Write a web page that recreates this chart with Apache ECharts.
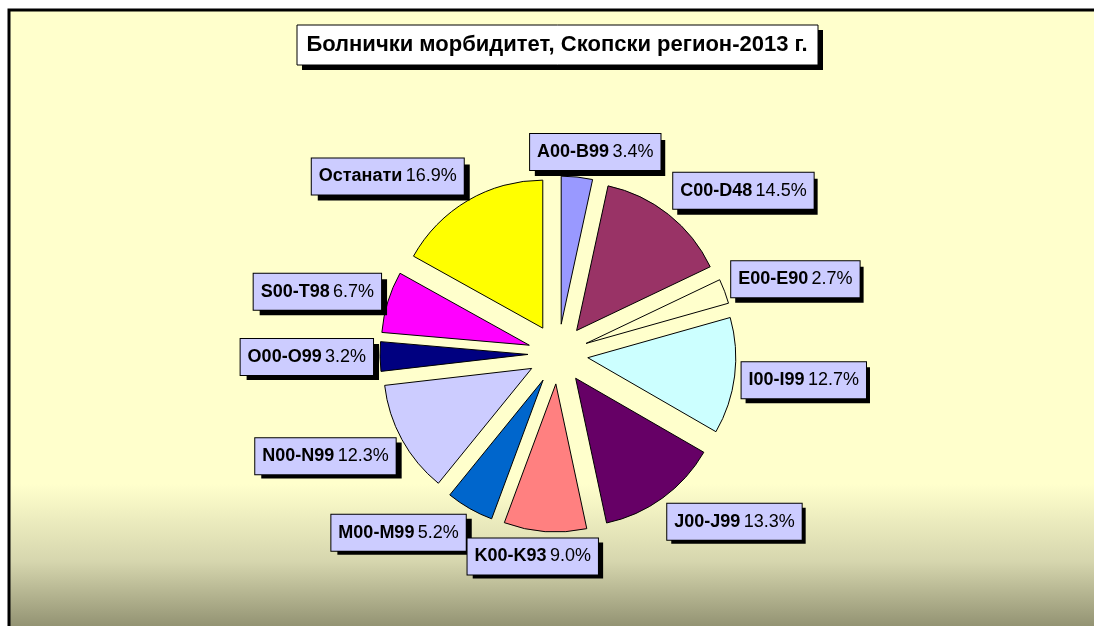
<!DOCTYPE html>
<html>
<head>
    <meta charset="utf-8">
    <title>Болнички морбидитет</title>
    <script src="https://cdn.jsdelivr.net/npm/echarts@6/dist/echarts.min.js"></script>
    <style>
        html, body { margin: 0; padding: 0; background: #fff; }
        #chart { width: 1094px; height: 626px; }
    </style>
</head>
<body>
<div id="chart"></div>
<script>
    // податоци
    var categories = ['A00-B99', 'C00-D48', 'E00-E90', 'I00-I99', 'J00-J99', 'K00-K93',
        'M00-M99', 'N00-N99', 'O00-O99', 'S00-T98', 'Останати'];
    var shares = [3.4, 14.5, 2.7, 12.7, 13.3, 9.0, 5.2, 12.3, 3.2, 6.7, 16.9];
    var colors = ['#9999FF', '#993366', '#FFFFCC', '#CCFFFF', '#660066', '#FF8080',
        '#0066CC', '#CCCCFF', '#000080', '#FF00FF', '#FFFF00'];

    var CX = 558, CY = 354, R = 148, OFFSET = 30, GAP = 6;
    var FONT = 'Liberation Sans, Arial, sans-serif';

    // среден агол на секој дел (од горе, во насока на стрелките)
    var total = shares.reduce(function (a, b) { return a + b; }, 0);
    var midAngles = [];
    var cum = 0;
    shares.forEach(function (v) {
        midAngles.push((cum + v / 2) / total * Math.PI * 2);
        cum += v;
    });

    function clamp(v) { return Math.max(-1, Math.min(1, v)); }

    // етикетата се поставува надвор од работ на извлечениот дел, како во Excel
    function placeLabel(shift) {
        return function (params) {
            var a = midAngles[params.dataIndex];
            var w = params.labelRect.width, h = params.labelRect.height;
            var d = R + OFFSET + GAP;
            var px = CX + d * Math.sin(a), py = CY - d * Math.cos(a);
            var kx = clamp(Math.sin(a) * 2.5), ky = clamp(Math.cos(a) * 1.5);
            return {
                x: px + kx * w / 2 + shift,
                y: py - ky * h / 2 + shift,
                align: 'center',
                verticalAlign: 'middle'
            };
        };
    }

    function labelText(p) {
        return '{b|' + p.name + '} {c|' + p.value.toFixed(1) + '%}';
    }

    var basePie = {
        type: 'pie',
        center: [CX, CY],
        radius: R,
        startAngle: 90,
        avoidLabelOverlap: false,
        emphasis: { disabled: true },
        labelLine: { show: false }
    };

    // делови на питата (сите извлечени)
    var sliceSeries = echarts.util.extend({
        z: 1,
        selectedMode: 'multiple',
        selectedOffset: OFFSET,
        itemStyle: { borderColor: '#000', borderWidth: 1 },
        label: { show: false },
        data: categories.map(function (name, i) {
            return { name: name, value: shares[i], selected: true, itemStyle: { color: colors[i] } };
        })
    }, basePie);

    // етикети (и нивните сенки) во посебни серии без боја
    function labelSeries(isShadow) {
        return echarts.util.extend({
            z: isShadow ? 2 : 3,
            silent: true,
            itemStyle: { color: 'rgba(0,0,0,0)', borderWidth: 0 },
            label: {
                show: true,
                position: 'outside',
                formatter: labelText,
                backgroundColor: isShadow ? '#000' : '#CCCCFF',
                borderColor: '#000',
                borderWidth: isShadow ? 0 : 1,
                padding: [9, 7, 9, 7],
                rich: {
                    b: { fontSize: 18, fontWeight: 'bold', color: isShadow ? 'rgba(0,0,0,0)' : '#000' },
                    c: { fontSize: 18, color: isShadow ? 'rgba(0,0,0,0)' : '#000' }
                }
            },
            labelLayout: placeLabel(isShadow ? 5 : 0),
            data: categories.map(function (name, i) {
                return { name: name, value: shares[i] };
            })
        }, basePie);
    }

    var myChart = echarts.init(document.getElementById('chart'));
    myChart.setOption({
        animation: false,
        textStyle: { fontFamily: FONT },
        graphic: [
            {
                type: 'rect',
                shape: { x: 9, y: 10, width: 1100, height: 640 },
                style: {
                    fill: new echarts.graphic.LinearGradient(0, 0, 0, 1, [
                        { offset: 0, color: '#FFFFCC' },
                        { offset: 0.74, color: '#FFFFCC' },
                        { offset: 0.86, color: '#D6D6AE' },
                        { offset: 1, color: '#79795C' }
                    ]),
                    stroke: '#000',
                    lineWidth: 3
                },
                z: -10
            },
            // наслов
            {
                type: 'rect',
                shape: { x: 302, y: 30, width: 521, height: 40 },
                style: { fill: '#000' },
                z: 5
            },
            {
                type: 'rect',
                shape: { x: 297, y: 25, width: 521, height: 40 },
                style: { fill: '#fff', stroke: '#000', lineWidth: 1 },
                z: 6
            },
            {
                type: 'text',
                x: 557, y: 45,
                style: {
                    text: 'Болнички морбидитет, Скопски регион-2013 г.',
                    fill: '#000',
                    font: 'bold 22px ' + FONT,
                    align: 'center',
                    verticalAlign: 'middle'
                },
                z: 7
            }
        ],
        series: [sliceSeries, labelSeries(true), labelSeries(false)]
    });
</script>
</body>
</html>
